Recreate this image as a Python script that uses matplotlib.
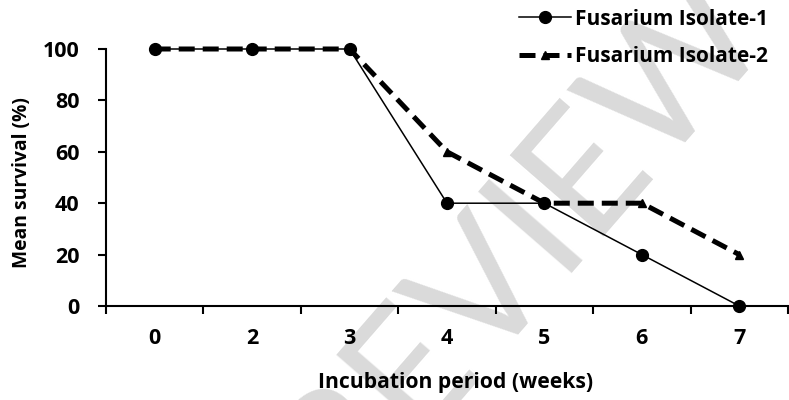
import matplotlib
matplotlib.use("Agg")
import matplotlib.pyplot as plt
import numpy as np

categories = ["0", "2", "3", "4", "5", "6", "7"]
isolate1 = [100, 100, 100, 40, 40, 20, 0]
isolate2 = [100, 100, 100, 60, 40, 40, 20]
yticks = [0, 20, 40, 60, 80, 100]

plt.rcParams['font.family'] = ['Open Sans', 'DejaVu Sans']
plt.rcParams['font.weight'] = 'bold'

fig = plt.figure(figsize=(7.89, 4.0), dpi=100)
fig.text(0.66, 0.40, "REVIEW", rotation=49, fontsize=124, color="#dadada",
         ha="center", va="center", fontweight="normal", zorder=-1,
         family=["Lato", "DejaVu Sans"])
ax = fig.add_axes([106/789, 1-306/400, (788-106)/789, (306-49)/400])
ax.set_facecolor("none")

x = np.arange(len(categories))
ax.plot(x, isolate1, color="black", lw=1.1, marker="o", markersize=8.5,
        label="Fusarium Isolate-1", clip_on=False, zorder=3)
ax.plot(x, isolate2, color="black", lw=3.6, ls=(0, (3.2, 1.6)), marker="^",
        markersize=6, label="Fusarium Isolate-2", clip_on=False, zorder=3)

ax.set_xlim(-0.5, len(categories) - 0.5)
ax.set_ylim(0, 100)
ax.set_xticks(x)
ax.set_xticklabels(categories)
ax.set_xticks(np.arange(-0.5, len(categories), 1), minor=True)
ax.tick_params(axis="x", which="major", length=0, pad=16, labelsize=15.5)
ax.tick_params(axis="x", which="minor", length=6, width=1.5, direction="out")
ax.set_yticks(yticks)
ax.tick_params(axis="y", length=6, width=1.5, direction="out", labelsize=15.5, pad=13)
for s in ["top", "right"]:
    ax.spines[s].set_visible(False)
for s in ["left", "bottom"]:
    ax.spines[s].set_linewidth(1.5)

ax.set_xlabel("Incubation period (weeks)", fontsize=15.2, fontweight="bold")
ax.xaxis.set_label_coords(0.512, -0.255)
ax.set_ylabel("Mean survival (%)", fontsize=13.9, fontweight="bold")
ax.yaxis.set_label_coords(-0.108, 0.48)

leg = fig.legend(loc="upper right", bbox_to_anchor=(0.997, 1.025), frameon=False,
                 fontsize=15, handlelength=2.5, handletextpad=0.2, labelspacing=0.8)

fig.savefig("out.png", dpi=100)
